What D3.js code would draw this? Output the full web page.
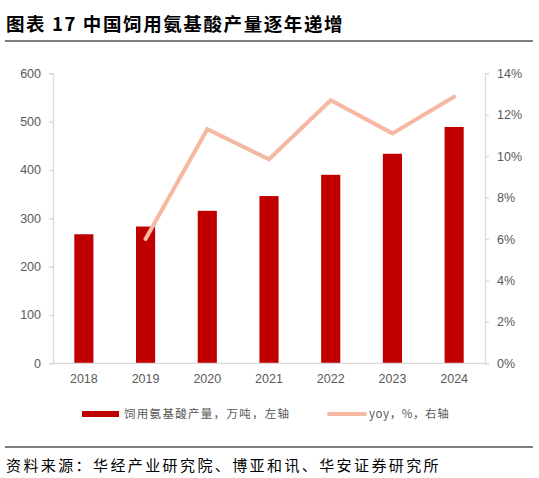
<!DOCTYPE html>
<html>
<head>
<meta charset="utf-8">
<script src="https://cdn.jsdelivr.net/npm/d3@7"></script>
<style>
  html, body { margin: 0; padding: 0; background: #fff; }
  svg { display: block; }
</style>
</head>
<body>
<svg id="chart" width="539" height="478"></svg>
<script>
// data
const years = ["2018", "2019", "2020", "2021", "2022", "2023", "2024"];
const output = [267, 283, 315.5, 346, 390, 433.5, 489];      // 万吨
const yoy = [null, 6.0, 11.3, 9.85, 12.7, 11.1, 12.87];      // %
const leftTicks = [0, 100, 200, 300, 400, 500, 600];
const rightTicks = [0, 2, 4, 6, 8, 10, 12, 14];

const m = { left: 53, right: 485, top: 73.3, bottom: 363.3 };
const axisColor = "#d9d9d9";
const labelColor = "#595959";
const font = "'Liberation Sans', Arial, 'Noto Sans CJK SC', sans-serif";
const cjk = "'Noto Sans CJK SC', sans-serif";

const svg = d3.select("svg#chart");

// title
svg.append("text")
    .attr("x", 6)
    .attr("y", 31)
    .attr("font-family", cjk)
    .attr("font-size", 18.5)
    .attr("font-weight", "bold")
    .attr("letter-spacing", 1.6)
    .attr("fill", "#000")
    .text("图表 17 中国饲用氨基酸产量逐年递增");

svg.append("line")
    .attr("x1", 5).attr("x2", 533)
    .attr("y1", 41).attr("y2", 41)
    .attr("stroke", "#000").attr("stroke-width", 1);

const x = d3.scaleBand()
    .domain(years)
    .range([m.left, m.right])
    .paddingInner(0.69)
    .paddingOuter(0.345);

const yL = d3.scaleLinear().domain([0, 600]).range([m.bottom, m.top]);
const yR = d3.scaleLinear().domain([0, 14]).range([m.bottom, m.top]);

// bars
svg.append("g")
    .selectAll("rect")
    .data(output)
    .join("rect")
    .attr("x", (_, i) => x(years[i]))
    .attr("y", d => yL(d))
    .attr("width", x.bandwidth())
    .attr("height", d => yL(0) - yL(d))
    .attr("fill", "#c00000");

// left axis
const leftAxis = svg.append("g")
    .attr("transform", `translate(${m.left},0)`)
    .call(d3.axisLeft(yL).tickValues(leftTicks).tickSize(4).tickPadding(8));

// right axis
const rightAxis = svg.append("g")
    .attr("transform", `translate(${m.right},0)`)
    .call(d3.axisRight(yR).tickValues(rightTicks).tickSize(4).tickPadding(8)
        .tickFormat(d => d + "%"));

// bottom axis
const bottomAxis = svg.append("g")
    .attr("transform", `translate(0,${m.bottom})`)
    .call(d3.axisBottom(x).tickSize(0).tickPadding(11));

[leftAxis, rightAxis, bottomAxis].forEach(g => {
    g.select(".domain").attr("stroke", axisColor).attr("stroke-width", 1.3);
    g.selectAll(".tick line").attr("stroke", axisColor).attr("stroke-width", 1.3);
    g.selectAll(".tick text")
        .attr("fill", labelColor)
        .attr("font-family", font)
        .attr("font-size", 12.5);
});
bottomAxis.select(".domain").attr("d", `M${m.left},0H${m.right}`);

// yoy line
const line = d3.line()
    .defined(d => d != null)
    .x((_, i) => x(years[i]) + x.bandwidth() / 2)
    .y(d => yR(d));

svg.append("path")
    .datum(yoy)
    .attr("d", line)
    .attr("fill", "none")
    .attr("stroke", "#f5b8a0")
    .attr("stroke-width", 4)
    .attr("stroke-linecap", "round")
    .attr("stroke-linejoin", "miter");

// legend
const legend = svg.append("g").attr("font-family", cjk).attr("font-size", 11.5).attr("fill", labelColor);
legend.append("rect")
    .attr("x", 82).attr("y", 411).attr("width", 37).attr("height", 6)
    .attr("fill", "#c00000");
legend.append("text")
    .attr("x", 124).attr("y", 418)
    .attr("letter-spacing", 1.3)
    .text("饲用氨基酸产量，万吨，左轴");
legend.append("line")
    .attr("x1", 329).attr("x2", 365)
    .attr("y1", 414).attr("y2", 414)
    .attr("stroke", "#f5b8a0").attr("stroke-width", 4)
    .attr("stroke-linecap", "round");
legend.append("text")
    .attr("x", 369).attr("y", 418)
    .attr("letter-spacing", 0.6)
    .text("yoy，%，右轴");

// source
svg.append("line")
    .attr("x1", 5).attr("x2", 533)
    .attr("y1", 447).attr("y2", 447)
    .attr("stroke", "#000").attr("stroke-width", 1);
svg.append("text")
    .attr("x", 6)
    .attr("y", 471)
    .attr("font-family", cjk)
    .attr("font-size", 15)
    .attr("letter-spacing", 2.4)
    .attr("fill", "#000")
    .text("资料来源：华经产业研究院、博亚和讯、华安证券研究所");
</script>
</body>
</html>
